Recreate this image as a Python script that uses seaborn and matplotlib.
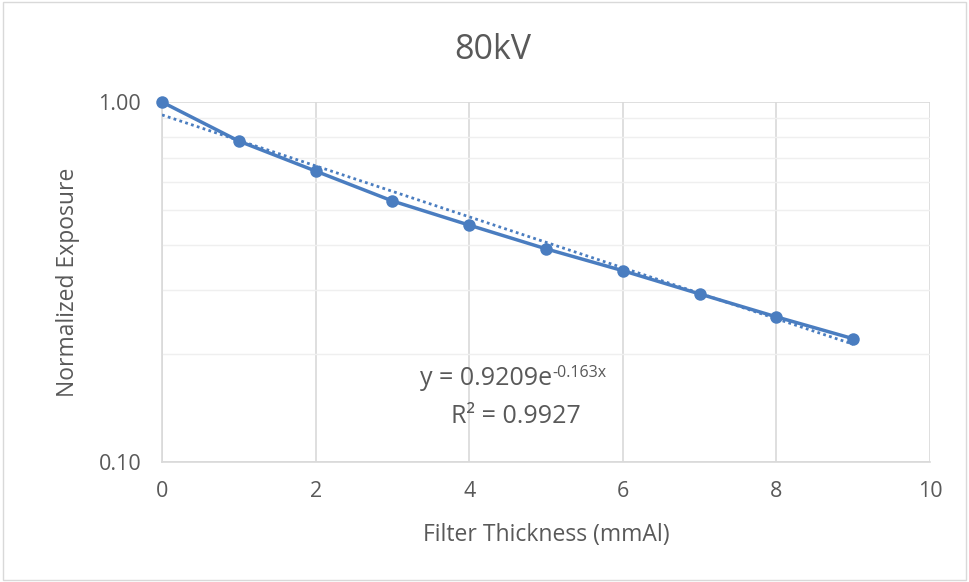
import numpy as np
import pandas as pd
import matplotlib
matplotlib.use("Agg")
import matplotlib.pyplot as plt
import seaborn as sns
from matplotlib.ticker import FixedLocator, NullFormatter

thickness = [0, 1, 2, 3, 4, 5, 6, 7, 8, 9]
exposure = [1.00, 0.779, 0.643, 0.531, 0.455, 0.391, 0.340, 0.293, 0.253, 0.220]
fit_a = 0.9209
fit_b = -0.163
r2 = 0.9927
title = "80kV"
xlabel = "Filter Thickness (mmAl)"
ylabel = "Normalized Exposure"
xticks = [0, 2, 4, 6, 8, 10]
yticks = [0.1, 1.0]
ytick_labels = ["0.10", "1.00"]

sns.set_theme(style="white")
plt.rcParams['font.family'] = ['Open Sans', 'DejaVu Sans']

color = "#4a7dc0"
text_color = "#595959"
grid_color = "#d9d9d9"

df = pd.DataFrame({"x": thickness, "y": exposure})
xs = np.array(thickness, dtype=float)
trend = pd.DataFrame({"x": xs, "y": fit_a * np.exp(fit_b * xs)})

fig = plt.figure(figsize=(9.69, 5.82), dpi=100)
ax = fig.add_axes([0.1672, 0.2062, 0.7926, 0.6185])

sns.lineplot(data=trend, x="x", y="y", ax=ax, color=color, linewidth=2,
             linestyle=(0, (1, 1.2)), zorder=3)
sns.lineplot(data=df, x="x", y="y", ax=ax, color=color, linewidth=2.5,
             marker="o", markersize=9, markeredgewidth=0, zorder=4, clip_on=False)

ax.set_yscale("log")
ax.set_xlim(0, 10)
ax.set_ylim(0.1, 1.0)
ax.set_xticks(xticks)
ax.set_xticklabels([str(t) for t in xticks])
ax.yaxis.set_major_locator(FixedLocator(yticks))
ax.set_yticklabels(ytick_labels)
ax.yaxis.set_minor_locator(FixedLocator([0.2, 0.3, 0.4, 0.5, 0.6, 0.7, 0.8, 0.9]))
ax.yaxis.set_minor_formatter(NullFormatter())

ax.grid(True, which="major", axis="both", color=grid_color, linewidth=1.2)
ax.grid(True, which="minor", axis="y", color="#efefef", linewidth=1.0)
ax.set_axisbelow(True)
for side in ["top", "right"]:
    ax.spines[side].set_visible(False)
ax.spines["left"].set_color(grid_color)
ax.spines["bottom"].set_color(grid_color)
ax.spines["left"].set_linewidth(1.2)
ax.spines["bottom"].set_linewidth(1.2)

ax.tick_params(axis="both", which="both", length=0, labelsize=15.5,
               labelcolor=text_color)
ax.tick_params(axis="x", pad=14)
ax.tick_params(axis="y", pad=15)
ax.set_xlabel(xlabel, fontsize=16.5, color=text_color, labelpad=15)
ax.set_ylabel(ylabel, fontsize=16.5, color=text_color, labelpad=13)
fig.text(0.508, 0.914, title, ha="center", va="center", fontsize=24.5, color=text_color)

ax.text(5.08, 0.1637, "y = 0.9209e", ha="right", va="baseline",
        fontsize=18, color=text_color)
ax.annotate("-0.163x", xy=(5.08, 0.1637), xytext=(0, 6), textcoords="offset points",
            ha="left", va="baseline", fontsize=11.5, color=text_color)
ax.text(4.61, 0.1283, "R² = 0.9927", ha="center", va="baseline",
        fontsize=18, color=text_color)

border = plt.Rectangle((0.003, 0.003), 0.994, 0.994, transform=fig.transFigure,
                       fill=False, edgecolor="#d9d9d9", linewidth=1)
fig.patches.append(border)

fig.savefig("out.png", dpi=100)
